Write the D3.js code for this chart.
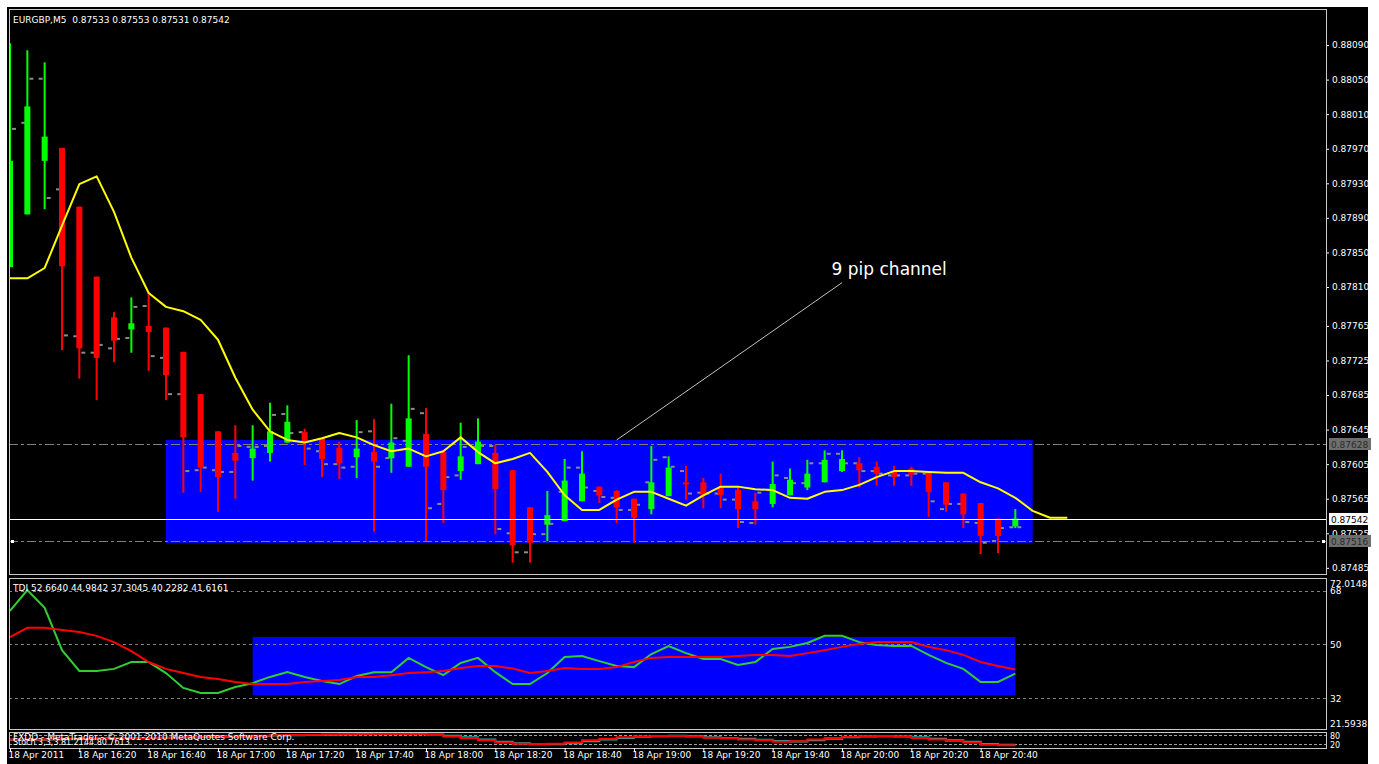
<!DOCTYPE html>
<html><head><meta charset="utf-8">
<script src="https://cdn.jsdelivr.net/npm/d3@7"></script>
<style>
html,body{margin:0;padding:0;background:#fff;}
svg{display:block;}
text{font-family:"DejaVu Sans",sans-serif;}
</style>
</head><body>
<svg id="chart" width="1379" height="764"></svg>
<script>
// ---------------- DATA ----------------
const symbolTitle = "EURGBP,M5  0.87533 0.87553 0.87531 0.87542";
const tdiTitle = "TDI 52.6640 44.9842 37.3045 40.2282 41.6161";
const footerText = "FXDD - MetaTrader - \u00a9 2001-2010 MetaQuotes Software Corp.";
const stochTitle = "Stoch 3,3,3 81.2144 80.7613";

const barTimes = ["16:00","16:05","16:10","16:15","16:20","16:25","16:30","16:35","16:40","16:45",
  "16:50","16:55","17:00","17:05","17:10","17:15","17:20","17:25","17:30","17:35",
  "17:40","17:45","17:50","17:55","18:00","18:05","18:10","18:15","18:20","18:25",
  "18:30","18:35","18:40","18:45","18:50","18:55","19:00","19:05","19:10","19:15",
  "19:20","19:25","19:30","19:35","19:40","19:45","19:50","19:55","20:00","20:05",
  "20:10","20:15","20:20","20:25","20:30","20:35","20:40","20:45","20:50"];
const shiftTimes = ["20:55","21:00","21:05"];

const open = [0.87833,0.87894,0.87956,0.87971,0.87903,0.87822,0.87775,0.87761,0.87765,0.87763,
  0.87735,0.87686,0.87643,0.87618,0.87612,0.87618,0.87630,0.87642,0.87635,0.87624,
  0.87613,0.87619,0.87612,0.87602,0.87640,0.87619,0.87597,0.87605,0.87618,0.87598,
  0.87555,0.87535,0.87539,0.87562,0.87579,0.87574,0.87565,0.87553,0.87568,0.87584,
  0.87584,0.87579,0.87575,0.87562,0.87559,0.87569,0.87578,0.87584,0.87597,0.87606,
  0.87602,0.87596,0.87600,0.87595,0.87584,0.87571,0.87560,0.87542,0.87533];
const high = [0.88092,0.88084,0.88070,0.87971,0.87903,0.87822,0.87781,0.87798,0.87803,0.87763,
  0.87735,0.87686,0.87643,0.87650,0.87650,0.87676,0.87673,0.87646,0.87635,0.87631,
  0.87656,0.87657,0.87675,0.87731,0.87670,0.87621,0.87653,0.87658,0.87628,0.87598,
  0.87555,0.87574,0.87611,0.87620,0.87579,0.87575,0.87565,0.87626,0.87614,0.87603,
  0.87589,0.87594,0.87578,0.87572,0.87608,0.87600,0.87610,0.87621,0.87621,0.87613,
  0.87608,0.87603,0.87602,0.87595,0.87584,0.87571,0.87560,0.87542,0.87553];
const low = [0.87833,0.87894,0.87900,0.87737,0.87704,0.87679,0.87723,0.87734,0.87713,0.87679,
  0.87572,0.87573,0.87550,0.87565,0.87586,0.87608,0.87630,0.87604,0.87590,0.87588,
  0.87589,0.87527,0.87595,0.87602,0.87516,0.87537,0.87587,0.87605,0.87524,0.87491,
  0.87491,0.87516,0.87539,0.87562,0.87560,0.87537,0.87514,0.87547,0.87568,0.87564,
  0.87554,0.87554,0.87531,0.87535,0.87555,0.87569,0.87575,0.87584,0.87596,0.87578,
  0.87580,0.87580,0.87580,0.87544,0.87550,0.87531,0.87501,0.87502,0.87531];
const close = [0.87956,0.88019,0.87984,0.87834,0.87739,0.87728,0.87748,0.87768,0.87758,0.87708,
  0.87636,0.87601,0.87590,0.87609,0.87623,0.87643,0.87654,0.87631,0.87611,0.87606,
  0.87623,0.87608,0.87630,0.87658,0.87602,0.87575,0.87614,0.87631,0.87576,0.87511,
  0.87514,0.87546,0.87586,0.87594,0.87569,0.87555,0.87543,0.87584,0.87601,0.87582,
  0.87569,0.87569,0.87553,0.87553,0.87582,0.87587,0.87594,0.87610,0.87611,0.87598,
  0.87594,0.87590,0.87593,0.87573,0.87558,0.87547,0.87522,0.87522,0.87542];

// grey open/close ticks of the overlay bar indicator
const greyOpen = [0.87993,0.88000,0.88051,0.87923,0.87753,0.87734,0.87739,0.87751,0.87788,0.87728,
  0.87686,0.87598,0.87598,0.87596,0.87625,0.87626,0.87663,0.87642,0.87620,0.87605,
  0.87602,0.87643,0.87612,0.87632,0.87664,0.87559,0.87592,0.87625,0.87626,0.87525,
  0.87503,0.87524,0.87573,0.87601,0.87574,0.87566,0.87552,0.87584,0.87613,0.87597,
  0.87572,0.87571,0.87564,0.87537,0.87575,0.87589,0.87583,0.87606,0.87617,0.87606,
  0.87597,0.87592,0.87592,0.87594,0.87553,0.87559,0.87537,0.87516,0.87532];
const greyClose = [0.87993,0.88051,0.87913,0.87754,0.87734,0.87743,0.87750,0.87787,0.87730,0.87686,
  0.87597,0.87601,0.87596,0.87626,0.87625,0.87662,0.87641,0.87623,0.87605,0.87601,
  0.87642,0.87602,0.87635,0.87669,0.87554,0.87590,0.87625,0.87626,0.87530,0.87503,
  0.87524,0.87536,0.87601,0.87578,0.87567,0.87552,0.87558,0.87610,0.87602,0.87571,
  0.87571,0.87564,0.87538,0.87572,0.87592,0.87583,0.87606,0.87617,0.87606,0.87597,
  0.87594,0.87592,0.87594,0.87562,0.87559,0.87538,0.87514,0.87531,0.87532];

// moving average, shifted 3 bars forward (62 points)
const maValues = [0.87820,0.87820,0.87832,0.87881,0.87929,0.87938,0.87897,0.87844,0.87803,0.87787,
  0.87782,0.87772,0.87749,0.87705,0.87668,0.87643,0.87633,0.87630,0.87635,0.87641,
  0.87636,0.87627,0.87620,0.87623,0.87614,0.87620,0.87636,0.87619,0.87606,0.87611,
  0.87618,0.87596,0.87569,0.87552,0.87552,0.87564,0.87573,0.87573,0.87565,0.87557,
  0.87569,0.87579,0.87579,0.87576,0.87575,0.87566,0.87565,0.87573,0.87575,0.87581,
  0.87590,0.87597,0.87597,0.87596,0.87595,0.87595,0.87584,0.87577,0.87566,0.87551,
  0.87543,0.87543];

const tdiPrice = [61.3,68.3,62.3,48.1,41.1,41.1,41.8,44.1,44.1,40.4,
  35.4,33.7,33.7,35.7,37.0,39.1,40.7,39.1,37.7,36.7,
  39.4,40.7,40.7,45.5,42.4,39.7,43.8,45.5,40.7,36.7,
  36.7,40.4,45.8,46.1,44.4,42.8,42.4,46.8,49.5,47.1,
  45.1,45.1,43.1,44.1,48.5,49.2,50.5,52.9,52.9,50.8,
  49.8,49.5,49.5,46.5,43.8,41.8,37.4,37.4,40.2];
const tdiSignal = [52.5,55.6,55.6,54.9,54.2,52.9,50.8,47.8,44.1,41.8,
  40.4,39.1,38.4,37.4,36.7,36.7,36.7,37.4,37.7,38.1,
  39.1,39.1,39.7,40.4,40.7,41.1,42.1,42.8,42.8,41.9,
  40.4,41.1,42.1,41.8,41.8,42.4,44.1,45.5,45.8,45.8,
  45.8,45.8,46.1,46.5,46.5,46.1,47.1,48.1,49.2,50.2,
  50.8,50.8,50.8,49.2,48.1,46.5,44.1,42.8,41.6];

const stochMain = [50,50,52,55,55,58,60,60,62,62,
  65,68,70,72,75,78,80,82,83,85,
  85,86,86,85,80,70,60,45,30,22,
  20,22,30,45,55,65,70,73,73,70,
  62,58,50,45,35,38,50,60,68,72,
  73,70,60,50,40,30,15,12,12];
const stochSignal = [48,48,50,52,54,56,58,59,60,61,
  63,66,68,70,73,76,78,80,82,84,
  86,88,88,87,83,75,65,50,35,25,
  18,18,25,38,50,60,68,72,75,72,
  65,60,55,48,40,36,45,55,65,70,
  72,70,65,55,45,35,20,15,15];

const priceTicks = [0.88090,0.88050,0.88010,0.87970,0.87930,0.87890,0.87850,0.87810,
  0.87765,0.87725,0.87685,0.87645,0.87605,0.87565,0.87525,0.87485];
const tdiLevels = [68,50,32];
const tdiRangeLabels = ["72.0148","21.5938"];
const stochLevels = [80,20];
const timeTicks = ["16:00","16:20","16:40","17:00","17:20","17:40","18:00","18:20","18:40",
  "19:00","19:20","19:40","20:00","20:20","20:40"];
const timeTickLabels = ["18 Apr 2011","18 Apr 16:20","18 Apr 16:40","18 Apr 17:00","18 Apr 17:20",
  "18 Apr 17:40","18 Apr 18:00","18 Apr 18:20","18 Apr 18:40","18 Apr 19:00","18 Apr 19:20",
  "18 Apr 19:40","18 Apr 20:00","18 Apr 20:20","18 Apr 20:40"];

const bidPrice = 0.87542;
const hLines = [0.87628, 0.87516];
const channelRect = {t0:"16:45", t1:"20:55", p0:0.87633, p1:0.87514};
const tdiRect = {t0:"17:10", t1:"20:50", v0:52.5, v1:33.0};
const trendLine = {t0:"18:55", p0:0.87633, t1:"20:00", p1:0.87815};
const annotation = {t:"19:57", p:0.87824, text:"9 pip channel"};

// ---------------- DRAWING ----------------
const svg = d3.select("#chart");
const parse = t => new Date(2011, 3, 18, +t.slice(0,2), +t.slice(3,5));

const X0 = 9, X1 = 1326;
const x = d3.scaleTime().domain([parse("16:00"), parse("20:50")]).range([10, 1015.33]);
const yP = d3.scaleLinear().domain([0.874779, 0.881317]).range([574, 9]);
const yT = d3.scaleLinear().domain([21.5938, 72.0148]).range([729, 579]);
const yS = d3.scaleLinear().domain([0, 100]).range([747, 732]);

// black chart background
svg.append("rect").attr("x",7).attr("y",7).attr("width",1361).attr("height",757).attr("fill","#000");

const defs = svg.append("defs");
defs.append("clipPath").attr("id","clipMain").append("rect").attr("x",X0+1).attr("y",10).attr("width",X1-X0-1).attr("height",563);
defs.append("clipPath").attr("id","clipTdi").append("rect").attr("x",X0+1).attr("y",579).attr("width",X1-X0-1).attr("height",150);
defs.append("clipPath").attr("id","clipSto").append("rect").attr("x",X0+1).attr("y",733).attr("width",X1-X0-1).attr("height",15);

// ---- main panel ----
const gm = svg.append("g").attr("clip-path","url(#clipMain)");
gm.append("rect")
  .attr("x", x(parse(channelRect.t0))).attr("y", yP(channelRect.p0))
  .attr("width", x(parse(channelRect.t1)) - x(parse(channelRect.t0)))
  .attr("height", yP(channelRect.p1) - yP(channelRect.p0))
  .attr("fill","#0000ff");

hLines.forEach(p => {
  gm.append("line").attr("x1",X0).attr("x2",X1).attr("y1",Math.round(yP(p))+0.5).attr("y2",Math.round(yP(p))+0.5)
    .attr("stroke","#808080").attr("stroke-width",1).attr("stroke-dasharray","9,3,3,3");
});
[X0+2, X1-4].forEach(mx => {
  svg.append("rect").attr("x",mx).attr("y",Math.round(yP(hLines[1]))-1).attr("width",3).attr("height",3).attr("fill","#fff");
});

const bars = barTimes.map((t,i) => ({t:parse(t), o:open[i], h:high[i], l:low[i], c:close[i], go:greyOpen[i], gc:greyClose[i]}));

// grey overlay ticks
const gt = gm.append("g").attr("stroke","#8c8c8c").attr("stroke-width",2);
bars.forEach(b => {
  const cx = x(b.t);
  gt.append("line").attr("x1",cx-6).attr("x2",cx-2).attr("y1",yP(b.go)).attr("y2",yP(b.go));
  gt.append("line").attr("x1",cx+2).attr("x2",cx+6).attr("y1",yP(b.gc)).attr("y2",yP(b.gc));
});

// candles
const gc = gm.append("g");
bars.forEach(b => {
  const cx = x(b.t);
  const col = b.c >= b.o ? "#00ff00" : "#ff0000";
  gc.append("rect").attr("x",cx-1).attr("width",2).attr("y",yP(b.h)).attr("height",Math.max(1,yP(b.l)-yP(b.h))).attr("fill",col);
  const top = yP(Math.max(b.o,b.c)), bot = yP(Math.min(b.o,b.c));
  gc.append("rect").attr("x",cx-3).attr("width",6).attr("y",top).attr("height",Math.max(2,bot-top)).attr("fill",col);
});

// bid line
gm.append("line").attr("x1",X0).attr("x2",X1).attr("y1",Math.round(yP(bidPrice))+0.5).attr("y2",Math.round(yP(bidPrice))+0.5)
  .attr("stroke","#ffffff").attr("stroke-width",1);

// moving average
const maTimes = barTimes.concat(shiftTimes);
gm.append("path").datum(maValues.map((v,i)=>[parse(maTimes[i]), v]))
  .attr("fill","none").attr("stroke","#ffff00").attr("stroke-width",2).attr("stroke-linejoin","round")
  .attr("d", d3.line().x(d=>x(d[0])).y(d=>yP(d[1])));

// trend line annotation
gm.append("line")
  .attr("x1",x(parse(trendLine.t0))).attr("y1",yP(trendLine.p0))
  .attr("x2",x(parse(trendLine.t1))).attr("y2",yP(trendLine.p1))
  .attr("stroke","#c0c0c0").attr("stroke-width",1);
gm.append("text").attr("x",x(parse(annotation.t))).attr("y",yP(annotation.p))
  .attr("fill","#fff").attr("font-family","Liberation Sans, Arial, sans-serif").attr("font-size",17)
  .text(annotation.text);

svg.append("text").attr("x",13).attr("y",23).attr("fill","#fff").attr("font-size",9).attr("xml:space","preserve").text(symbolTitle);

// price axis
const pa = svg.append("g").attr("transform",`translate(${X1},0)`)
  .call(d3.axisRight(yP).tickValues(priceTicks).tickFormat(d3.format(".5f")).tickSize(3).tickPadding(3));
pa.select(".domain").remove();
pa.selectAll("line").attr("stroke","#fff");
pa.selectAll("text").attr("fill","#fff").attr("font-size",9).attr("font-family","DejaVu Sans");

// boxed price labels
const boxes = [{p:hLines[0], bg:"#6e6e6e", fg:"#2a2a2a"},{p:hLines[1], bg:"#6e6e6e", fg:"#2a2a2a"},{p:bidPrice, bg:"#ffffff", fg:"#000000"}];
boxes.forEach(b => {
  const yy = Math.round(yP(b.p));
  svg.append("rect").attr("x",X1+3).attr("y",yy-6).attr("width",42).attr("height",12).attr("fill",b.bg);
  svg.append("text").attr("x",X1+5).attr("y",yy+4).attr("fill",b.fg).attr("font-size",9).text(d3.format(".5f")(b.p));
});

// ---- TDI panel ----
const gtd = svg.append("g").attr("clip-path","url(#clipTdi)");
gtd.append("rect")
  .attr("x", x(parse(tdiRect.t0))).attr("y", yT(tdiRect.v0))
  .attr("width", x(parse(tdiRect.t1)) - x(parse(tdiRect.t0)))
  .attr("height", yT(tdiRect.v1) - yT(tdiRect.v0)).attr("fill","#0000ff");
tdiLevels.forEach(v => {
  gtd.append("line").attr("x1",X0).attr("x2",X1).attr("y1",Math.round(yT(v))+0.5).attr("y2",Math.round(yT(v))+0.5)
    .attr("stroke","#808080").attr("stroke-dasharray","3,3");
});
const tl = d3.line().x((d,i)=>x(parse(barTimes[i]))).y(d=>yT(d));
gtd.append("path").datum(tdiPrice).attr("fill","none").attr("stroke","#32cd32").attr("stroke-width",2).attr("d",tl);
gtd.append("path").datum(tdiSignal).attr("fill","none").attr("stroke","#ff0000").attr("stroke-width",2).attr("d",tl);
svg.append("text").attr("x",13).attr("y",591).attr("fill","#fff").attr("font-size",9).text(tdiTitle);

svg.append("text").attr("x",X1+4).attr("y",587).attr("fill","#fff").attr("font-size",9).text(tdiRangeLabels[0]);
svg.append("text").attr("x",X1+4).attr("y",727).attr("fill","#fff").attr("font-size",9).text(tdiRangeLabels[1]);
tdiLevels.forEach(v => {
  svg.append("text").attr("x",X1+4).attr("y",yT(v)+3.5).attr("fill","#fff").attr("font-size",9).text(v);
});

// ---- Stochastic mini panel ----
const gs = svg.append("g").attr("clip-path","url(#clipSto)");
stochLevels.forEach(v => {
  gs.append("line").attr("x1",X0).attr("x2",X1).attr("y1",Math.round(yS(v))+0.5).attr("y2",Math.round(yS(v))+0.5)
    .attr("stroke","#a0a0a0").attr("stroke-dasharray","3,2");
});
const sl = d3.line().x((d,i)=>x(parse(barTimes[i]))).y(d=>yS(d)).curve(d3.curveStepAfter);
gs.append("path").datum(stochSignal).attr("fill","none").attr("stroke","#20b2aa").attr("stroke-width",2).attr("d",sl);
gs.append("path").datum(stochMain).attr("fill","none").attr("stroke","#ff0000").attr("stroke-width",2).attr("d",sl);
gs.append("text").attr("x",13).attr("y",745).attr("fill","#fff").attr("font-size",8).text(stochTitle);
gs.append("text").attr("x",13).attr("y",740).attr("fill","#fff").attr("font-size",9).text(footerText);
stochLevels.forEach(v => {
  svg.append("text").attr("x",X1+4).attr("y",yS(v)+3.5).attr("fill","#fff").attr("font-size",8).text(v);
});

// ---- panel frames ----
const frame = (y0,y1) => svg.append("rect").attr("x",X0+0.5).attr("y",y0+0.5).attr("width",X1-X0).attr("height",y1-y0)
  .attr("fill","none").attr("stroke","#c8c8c8").attr("stroke-width",1);
frame(9,574); frame(578,729); frame(732,748);

// ---- time axis ----
const ta = svg.append("g").attr("transform","translate(0,748)")
  .call(d3.axisBottom(x).tickValues(timeTicks.map(parse)).tickFormat((d,i)=>timeTickLabels[i]).tickSize(4).tickPadding(2));
ta.select(".domain").remove();
ta.selectAll("line").attr("stroke","#fff");
ta.selectAll("text").attr("fill","#fff").attr("font-size",9).attr("font-family","DejaVu Sans")
  .attr("text-anchor","start").attr("dx",-2).attr("dy","0.45em");
</script>
</body></html>
